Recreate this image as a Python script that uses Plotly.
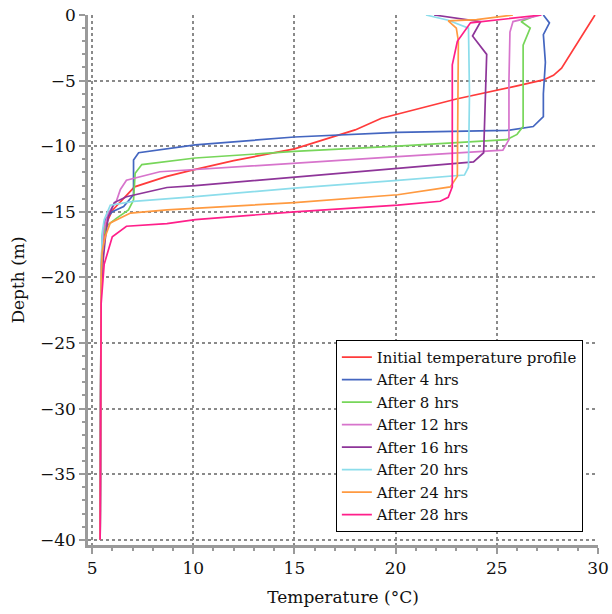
import plotly.graph_objects as go

# ---------------- data (temperature in °C, depth in m) ----------------
names = ["Initial temperature profile", "After 4 hrs", "After 8 hrs", "After 12 hrs",
         "After 16 hrs", "After 20 hrs", "After 24 hrs", "After 28 hrs"]
colors = ["#FF3B3B", "#4466C0", "#77D65A", "#D774CC",
          "#8E3599", "#8CDDEB", "#FF9A40", "#FF1F8A"]

initial_T = [29.85, 29.25, 28.2, 27.8, 27.3, 26.0, 23.0, 19.3, 18.0, 15.0, 12.0, 10.0, 8.7, 7.1, 6.4, 6.0, 5.65, 5.5, 5.45, 5.4]
initial_d = [0, -1.5, -4.06, -4.6, -4.95, -5.4, -6.4, -7.87, -8.76, -10.2, -11.1, -11.8, -12.3, -13.1, -14.2, -14.9, -16.1, -17.9, -20, -40]

h4_T = [27.3, 27.6, 27.3, 27.4, 27.3, 27.3, 26.8, 26.2, 25.5, 20.1, 15.0, 10.1, 7.3, 7.05, 7.05, 6.56, 6.0, 5.65, 5.5, 5.45, 5.4]
h4_d = [0, -0.6, -1.5, -3.6, -6.0, -7.75, -8.5, -8.65, -8.8, -8.95, -9.3, -9.9, -10.5, -11.05, -13.7, -14.6, -15.0, -15.6, -16.9, -20, -40]

h8_T = [27.0, 26.2, 26.65, 26.3, 26.3, 26.0, 25.5, 20.1, 15.0, 10.1, 7.46, 7.13, 7.05, 6.8, 6.2, 5.7, 5.5, 5.45, 5.4]
h8_d = [0, -0.5, -1.0, -2.3, -8.5, -9.1, -9.5, -10.0, -10.4, -10.9, -11.4, -12.06, -14.1, -14.86, -15.5, -16.1, -17.1, -20, -40]

h12_T = [27.2, 25.8, 25.65, 25.6, 25.6, 25.3, 20.1, 15.0, 10.1, 8.35, 6.7, 6.4, 6.2, 5.8, 5.55, 5.45, 5.4]
h12_d = [0, -0.5, -1.3, -5.0, -9.5, -10.3, -10.8, -11.3, -11.8, -11.95, -12.6, -13.3, -14.2, -15.1, -16.5, -20, -40]

h16_T = [21.9, 24.2, 23.8, 24.5, 24.4, 24.35, 23.85, 20.1, 15.0, 10.1, 8.7, 6.7, 6.1, 5.8, 5.65, 5.55, 5.45, 5.4]
h16_d = [0, -0.5, -1.6, -3.0, -8.0, -10.5, -11.2, -11.7, -12.4, -13.0, -13.15, -13.85, -14.3, -15.4, -17.1, -18.7, -21, -40]

h20_T = [21.5, 22.6, 23.6, 23.65, 23.6, 23.4, 20.1, 15.0, 10.1, 8.7, 7.05, 5.9, 5.6, 5.5, 5.45, 5.4]
h20_d = [0, -0.4, -1.0, -6.0, -11.6, -12.2, -12.6, -13.2, -13.85, -14.0, -14.2, -14.5, -15.6, -16.6, -20, -40]

h24_T = [25.8, 24.0, 22.6, 23.0, 23.1, 23.05, 22.7, 20.1, 15.0, 10.1, 8.7, 6.9, 5.9, 5.65, 5.5, 5.45, 5.4]
h24_d = [0, -0.35, -0.45, -1.0, -2.0, -12.3, -13.1, -13.7, -14.3, -14.7, -14.86, -15.1, -15.85, -16.9, -18.0, -20, -40]

h28_T = [27.2, 23.7, 23.05, 22.8, 22.8, 22.6, 22.2, 20.1, 15.0, 10.1, 8.7, 6.7, 6.0, 5.75, 5.6, 5.45, 5.4]
h28_d = [0, -0.6, -2.0, -3.8, -13.1, -13.9, -14.2, -14.5, -15.0, -15.6, -15.9, -16.1, -16.9, -18.1, -19.0, -22, -40]

temps = [initial_T, h4_T, h8_T, h12_T, h16_T, h20_T, h24_T, h28_T]
depths = [initial_d, h4_d, h8_d, h12_d, h16_d, h20_d, h24_d, h28_d]

x_ticks = [5, 10, 15, 20, 25, 30]
y_ticks = [0, -5, -10, -15, -20, -25, -30, -35, -40]

# ---------------- figure ----------------
fig = go.Figure()
for name, col, T, d in zip(names, colors, temps, depths):
    fig.add_trace(go.Scatter(x=T, y=d, mode="lines", name=name,
                             line=dict(color=col, width=1.7)))

font_family = "DejaVu Serif"
axis_common = dict(
    showline=True, linecolor="#9a9a9a", linewidth=2.5,
    ticks="outside", ticklen=6, tickcolor="#9a9a9a", tickwidth=1.5,
    showgrid=True, gridcolor="#8a8a8a", griddash="dot", gridwidth=1.5,
    zeroline=False, mirror=False, automargin=False,
    tickfont=dict(family=font_family, size=17, color="#111"),
    minor=dict(dtick=1, ticks="outside", ticklen=3, tickcolor="#9a9a9a", showgrid=False),
)

fig.update_xaxes(range=[4.8, 30], tickvals=x_ticks,
                 title=dict(text="Temperature (°C)", font=dict(family=font_family, size=17, color="#111"), standoff=14),
                 **axis_common)
fig.update_yaxes(range=[-40.4, 0], tickvals=y_ticks,
                 title=dict(text="Depth (m)", font=dict(family=font_family, size=17, color="#111"), standoff=12),
                 **axis_common)

fig.update_layout(
    width=612, height=614,
    margin=dict(l=88, r=14, t=15, b=69),
    paper_bgcolor="white", plot_bgcolor="white",
    showlegend=True,
    legend=dict(x=0.486, y=0.387, xanchor="left", yanchor="top",
                bgcolor="white", bordercolor="black", borderwidth=1,
                font=dict(family=font_family, size=15, color="#111"),
                itemwidth=30, tracegroupgap=0),
)

fig.write_html("out.html")
